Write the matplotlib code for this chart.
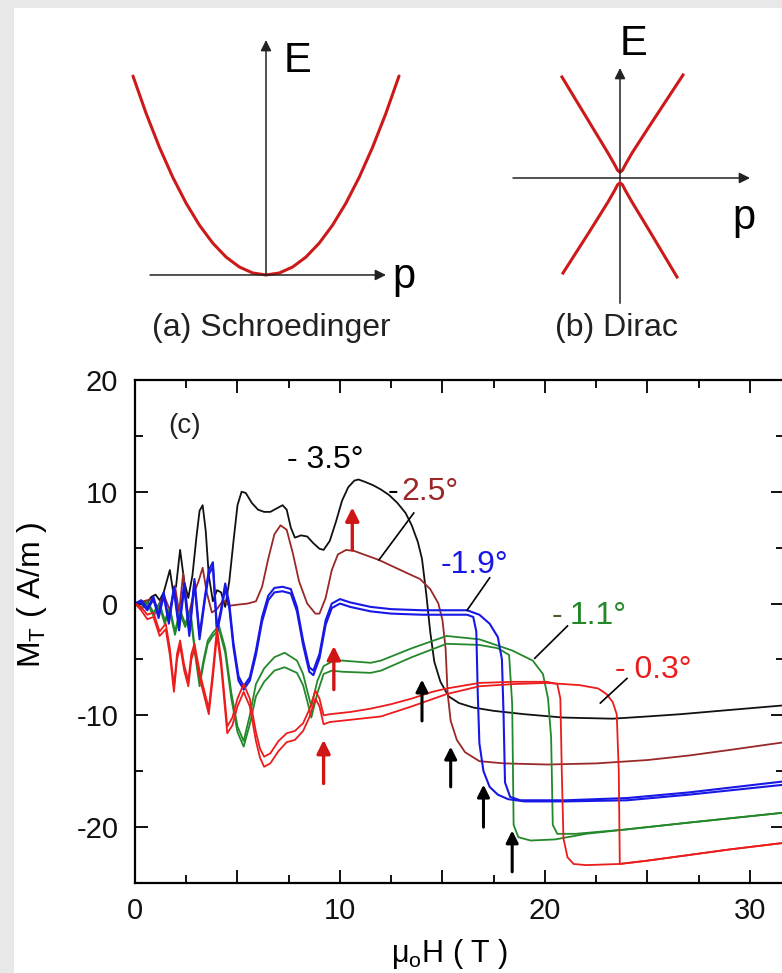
import matplotlib
matplotlib.use('Agg')
import matplotlib.pyplot as plt
from matplotlib.patches import Rectangle
from matplotlib.ticker import MultipleLocator

plt.rcParams['font.family'] = ['Liberation Sans', 'DejaVu Sans']
plt.rcParams['mathtext.fontset'] = 'custom'
plt.rcParams['mathtext.rm'] = 'Liberation Sans'
plt.rcParams['axes.unicode_minus'] = False

# ---- schematic dispersions (a) and (b)
schr_p = [-1.0, -0.9, -0.8, -0.7, -0.6, -0.5, -0.4, -0.3, -0.2, -0.1, 0.0,
          0.1, 0.2, 0.3, 0.4, 0.5, 0.6, 0.7, 0.8, 0.9, 1.0]
schr_E = [1.0, 0.81, 0.64, 0.49, 0.36, 0.25, 0.16, 0.09, 0.04, 0.01, 0.0,
          0.01, 0.04, 0.09, 0.16, 0.25, 0.36, 0.49, 0.64, 0.81, 1.0]

dirac_up_p = [-0.967, -0.5, -0.2, -0.09, -0.04, 0.0, 0.04, 0.09, 0.2, 0.5, 1.05]
dirac_up_E = [1.052, 0.57, 0.26, 0.14, 0.08, 0.06, 0.08, 0.14, 0.26, 0.55, 1.073]
dirac_lo_p = [-0.95, -0.5, -0.2, -0.09, -0.04, 0.0, 0.04, 0.09, 0.2, 0.5, 0.95]
dirac_lo_E = [-0.99, -0.55, -0.25, -0.13, -0.07, -0.05, -0.07, -0.13, -0.25, -0.56, -1.031]

# ---- (c) torque magnetization M_T vs field, five tilt angles
bk_x = [0, 0.3, 0.6, 0.8, 1.0, 1.2, 1.4, 1.55, 1.7, 1.85, 2.0, 2.2, 2.4, 2.6, 2.8,
        3.0, 3.15, 3.3, 3.45, 3.6, 3.8, 4.0, 4.2, 4.4, 4.6, 4.8, 5.0, 5.2, 5.4,
        5.7, 6.0, 6.3, 6.6, 6.9, 7.2, 7.4, 7.6, 7.8, 8.1, 8.4, 8.7, 9.0, 9.2,
        9.5, 9.8, 10.1, 10.4, 10.7, 10.9, 11.2, 11.6, 12.0, 12.4, 12.8, 13.2,
        13.5, 13.8, 14.0, 14.2, 14.4, 14.6, 14.9, 15.3, 15.8, 16.5, 17.5, 19.0,
        20.9, 23.3, 25.0, 26.6, 28.5, 31.7]
bk_y = [0, 0.2, 0.1, 0.6, 0.8, 0.3, 1.0, 2.0, 3.0, 1.2, 1.5, 4.8, 2.0, 0.5, 2.5,
        6.0, 8.3, 8.8, 6.5, 2.5, 0.2, 1.2, 1.0, -0.3, 2.0, 5.5, 8.8, 10.0, 9.9,
        9.0, 8.4, 8.2, 8.2, 8.5, 8.8, 8.4, 6.8, 5.9, 6.1, 6.0, 5.4, 4.9, 4.8,
        5.6, 7.3, 9.2, 10.4, 11.0, 11.1, 10.9, 10.6, 10.2, 9.7, 9.0, 8.1,
        7.0, 5.5, 4.0, 1.0, -2.5, -5.2, -7.0, -8.3, -8.9, -9.3, -9.6, -9.9,
        -10.2, -10.3, -10.1, -9.9, -9.6, -9.1]

dr_x = [0, 0.4, 0.8, 1.1, 1.4, 1.7, 1.95, 2.15, 2.35, 2.6, 2.85, 3.1, 3.3, 3.5,
        3.75, 4.0, 4.3, 4.6, 5.0, 5.5, 5.9, 6.2, 6.5, 6.8, 7.1, 7.4, 7.7, 8.0,
        8.4, 8.8, 9.0, 9.3, 9.6, 9.9, 10.3, 10.7, 11.3, 11.9, 12.6, 13.3, 13.9,
        14.4, 14.8, 15.0, 15.15, 15.25, 15.4, 15.7, 16.1, 16.8, 18.0, 20.1,
        22.5, 25.0, 27.0, 29.0, 31.7]
dr_y = [0, 0.2, 0.4, -0.3, 0.8, -0.6, 1.6, -0.8, 2.7, -1.2, 0.8, 2.0, 3.2, 1.0,
        -0.8, -0.5, 0.3, -0.2, -0.1, 0.0, 0.2, 1.5, 4.0, 6.2, 7.0, 6.6, 4.5, 2.0,
        0.0, -0.9, -0.9, 0.5, 3.0, 4.4, 4.8, 4.7, 4.3, 3.9, 3.3, 2.7, 2.2,
        1.3, 0.0, -1.5, -4.0, -8.0, -10.5, -12.2, -13.3, -14.1, -14.3, -14.4,
        -14.3, -14.0, -13.6, -13.1, -12.4]

b1_x = [0, 0.3, 0.6, 0.9, 1.15, 1.4, 1.65, 1.9, 2.15, 2.4, 2.65, 2.9, 3.15, 3.4,
        3.6, 3.8, 4.0, 4.2, 4.4, 4.6, 4.8, 5.05, 5.3, 5.6, 5.9, 6.2, 6.5, 6.8,
        7.2, 7.6, 7.9, 8.2, 8.5, 8.7, 9.0, 9.3, 9.6, 10.0, 10.5, 11.5, 12.5,
        14.0, 15.5, 16.2, 16.8, 17.3, 17.7, 17.9, 17.98, 18.05, 18.3, 18.8,
        21.0, 24.0, 27.0, 31.7]
b1_y = [0, 0.3, -0.4, 0.6, -1.0, 1.0, -1.5, 1.5, -2.0, 1.8, -2.5, 2.2, -2.8, 0.5,
        3.0, 3.7, -2.2, -0.5, 1.8, 0.0, -3.5, -6.5, -7.4, -6.6, -4.2, -1.2, 0.7,
        1.4, 1.5, 1.3, -0.3, -3.3, -5.7, -6.0, -4.5, -1.5, 0.0, 0.4, 0.1, -0.3,
        -0.5, -0.6, -0.6, -0.6, -1.0, -1.8, -3.0, -5.0, -10.0, -16.0, -17.3,
        -17.6, -17.6, -17.4, -16.9, -15.9]
b2_x = [0, 0.3, 0.6, 0.9, 1.15, 1.4, 1.65, 1.9, 2.15, 2.4, 2.65, 2.9, 3.15, 3.4,
        3.6, 3.8, 4.0, 4.2, 4.4, 4.6, 4.8, 5.05, 5.3, 5.6, 5.9, 6.2, 6.5, 6.8,
        7.2, 7.6, 7.9, 8.2, 8.5, 8.7, 9.0, 9.3, 9.6, 10.0, 10.5, 11.5, 12.5,
        14.0, 15.5, 16.2, 16.5, 16.65, 16.72, 16.8, 17.0, 17.3, 17.7, 18.2,
        19.0, 21.0, 24.0, 27.0, 31.7]
b2_y = [0, 0.1, -0.6, 0.4, -1.3, 0.7, -1.8, 1.2, -2.4, 1.4, -2.9, 1.8, -3.2, 0.2,
        2.6, 3.3, -2.6, -0.8, 1.4, -0.4, -3.9, -6.9, -7.7, -6.9, -4.6, -1.6, 0.3,
        1.0, 1.1, 0.9, -0.7, -3.7, -6.1, -6.4, -4.9, -1.9, -0.4, 0.0, -0.3, -0.7,
        -0.9, -1.0, -1.0, -1.0, -1.2, -2.5, -8.0, -12.5, -15.0, -16.4, -17.1,
        -17.5, -17.7, -17.7, -17.6, -17.1, -16.2]

g1_x = [0, 0.3, 0.6, 0.9, 1.2, 1.45, 1.7, 1.95, 2.2, 2.45, 2.7, 2.95, 3.15, 3.35,
        3.55, 3.8, 4.1, 4.4, 4.7, 5.0, 5.3, 5.6, 5.9, 6.3, 6.8, 7.3, 7.9, 8.2,
        8.4, 8.6, 8.9, 9.2, 9.6, 10.1, 11.5, 12.0, 13.5, 15.2, 16.8, 18.4, 19.4,
        19.9, 20.15, 20.3, 20.38, 20.6, 21.5, 24.0, 27.0, 31.7]
g1_y = [0, -0.3, 0.2, -0.8, 0.0, -1.5, -0.4, -2.5, -0.6, -1.8, -0.6, -4.5, -7.0,
        -5.0, -3.3, -2.6, -2.0, -4.0, -8.0, -11.0, -12.3, -10.0, -7.2, -5.8,
        -4.8, -4.4, -5.1, -6.3, -7.8, -9.2, -6.9, -5.6, -5.2, -5.1, -5.3, -5.1,
        -4.0, -2.9, -3.2, -4.2, -5.1, -6.3, -8.5, -12.0, -19.8, -20.6, -20.6,
        -20.2, -19.6, -18.7]
g2_x = [0, 0.3, 0.6, 0.9, 1.2, 1.45, 1.7, 1.95, 2.2, 2.45, 2.7, 2.95, 3.15, 3.35,
        3.55, 3.8, 4.1, 4.4, 4.7, 5.0, 5.3, 5.6, 5.9, 6.3, 6.8, 7.3, 7.9, 8.2,
        8.4, 8.6, 8.9, 9.2, 9.6, 10.1, 11.5, 12.0, 13.5, 15.2, 16.8, 17.7,
        18.25, 18.4, 18.47, 18.7, 19.3, 20.5, 22.0, 24.0, 27.0, 31.7]
g2_y = [0, -0.5, 0.0, -1.1, -0.3, -1.8, -0.7, -2.8, -0.9, -2.1, -0.9, -4.8, -7.4,
        -5.3, -3.6, -2.9, -2.3, -4.4, -8.5, -11.5, -12.8, -10.8, -8.3, -7.0,
        -6.0, -5.7, -6.2, -7.3, -8.7, -10.2, -8.0, -6.3, -6.0, -6.1, -6.2, -6.0,
        -4.8, -3.6, -3.7, -4.0, -4.6, -9.0, -19.8, -20.9, -21.2, -21.1, -20.6,
        -20.2, -19.6, -18.7]

r1_x = [0, 0.3, 0.6, 0.9, 1.2, 1.5, 1.7, 1.9, 2.05, 2.2, 2.4, 2.6, 2.75, 2.9,
        3.2, 3.6, 3.8, 4.0, 4.2, 4.5, 4.75, 5.0, 5.3, 5.6, 5.9, 6.1, 6.3, 6.6,
        7.0, 7.4, 7.8, 8.2, 8.5, 8.8, 9.0, 9.2, 9.5, 10.5, 11.5, 12.5, 13.5,
        14.5, 15.2, 16.8, 18.5, 20.1, 20.6, 20.75, 20.82, 20.9, 21.1, 21.4,
        22.0, 23.6, 25.0, 27.0, 29.0, 31.7]
r1_y = [0, -0.3, -1.0, -0.8, -2.5, -1.8, -4.0, -7.4, -4.5, -3.3, -5.5, -6.9, -4.5,
        -3.6, -6.5, -9.4, -6.0, -2.2, -5.0, -11.0, -10.2, -8.5, -7.2, -8.5,
        -11.5, -13.0, -13.7, -13.4, -12.3, -11.6, -11.4, -10.7, -9.5, -7.8,
        -8.5, -10.0, -9.9, -9.7, -9.4, -9.0, -8.5, -7.9, -7.6, -7.1, -7.0, -7.0,
        -7.2, -8.5, -15.0, -21.0, -22.7, -23.3, -23.4, -23.3, -23.0, -22.5,
        -22.0, -21.4]
r2_x = [0, 0.3, 0.6, 0.9, 1.2, 1.5, 1.7, 1.9, 2.05, 2.2, 2.4, 2.6, 2.75, 2.9,
        3.2, 3.6, 3.8, 4.0, 4.2, 4.5, 4.75, 5.0, 5.3, 5.6, 5.9, 6.1, 6.3, 6.6,
        7.0, 7.4, 7.8, 8.2, 8.5, 8.8, 9.0, 9.2, 9.5, 10.5, 12.0, 13.5, 15.2,
        16.8, 18.5, 20.1, 21.7, 22.6, 23.0, 23.3, 23.5, 23.6, 23.65, 25.0,
        27.0, 29.0, 31.7]
r2_y = [0, -0.6, -1.4, -1.2, -2.9, -2.3, -4.6, -7.9, -5.0, -3.8, -6.0, -7.4, -5.0,
        -4.1, -7.0, -9.9, -6.6, -2.8, -5.6, -11.6, -10.9, -9.2, -7.9, -9.2,
        -12.3, -13.8, -14.6, -14.3, -13.2, -12.4, -12.2, -11.4, -10.2, -8.5,
        -9.2, -10.8, -10.6, -10.4, -10.1, -9.2, -8.1, -7.4, -7.2, -7.1, -7.3,
        -7.6, -8.1, -8.8, -9.9, -15.0, -23.3, -23.0, -22.5, -22.0, -21.4]

# arrows marking features (field, start, end of arrow)
red_arrow_x = [10.6, 9.7, 9.2]
red_arrow_base = [4.8, -7.7, -16.1]
red_arrow_tip = [8.6, -3.8, -12.2]
blk_arrow_x = [14.0, 15.4, 17.0, 18.4]
blk_arrow_base = [-10.5, -16.4, -20.0, -24.0]
blk_arrow_tip = [-6.8, -12.8, -16.2, -20.3]

# leader lines from the angle labels to their curves
lead_x0 = [13.6, 17.3, 21.1, 24.0]
lead_y0 = [8.1, 2.3, -2.0, -6.7]
lead_x1 = [11.9, 16.2, 19.5, 22.7]
lead_y1 = [3.9, -0.6, -4.9, -8.9]

c_black = '#111111'
c_dred = '#9a2828'
c_blue = '#1818e6'
c_green = '#23882a'
c_red = '#ec1c1c'
c_arrow = '#d01515'
c_curve = '#cc1a1a'

W, H = 782, 973
fig = plt.figure(figsize=(W / 100, H / 100), dpi=100, facecolor='#e8e8e8')
fig.add_artist(Rectangle((14 / W, 0), 1, 1 - 8 / H, transform=fig.transFigure,
                         facecolor='white', edgecolor='none', zorder=-10))


def px_rect(x0, y0, x1, y1):
    return [x0 / W, 1 - y1 / H, (x1 - x0) / W, (y1 - y0) / H]


def px_text(x, y, s, **kw):
    fig.text(x / W, 1 - y / H, s, **kw)


arrow_kw = dict(arrowstyle='-|>', color='#222222', lw=1.1, mutation_scale=16,
                shrinkA=0, shrinkB=0)

# (a) Schroedinger
ax_a = fig.add_axes(px_rect(100, 10, 432, 345))
ax_a.set_xlim(-1.248, 1.248)
ax_a.set_ylim(-0.352, 1.332)
ax_a.axis('off')
ax_a.annotate('', xy=(0.902, 0), xytext=(-0.872, 0), arrowprops=arrow_kw)
ax_a.annotate('', xy=(0, 1.181), xytext=(0, 0), arrowprops=arrow_kw)
ax_a.plot(schr_p, schr_E, color=c_curve, lw=2.2, solid_capstyle='round')
px_text(284, 72, 'E', fontsize=30, va='baseline')
px_text(392, 288, 'p', fontsize=30, va='baseline')
px_text(271, 336, '(a) Schroedinger', fontsize=23, ha='center', va='baseline', color='#222222')

# (b) Dirac
ax_b = fig.add_axes(px_rect(500, 10, 770, 345))
ax_b.set_xlim(-2.0, 2.5)
ax_b.set_ylim(-1.7396, 1.75)
ax_b.axis('off')
ax_b.plot([0, 0], [-1.302, 0], color='#222222', lw=1.1)
ax_b.annotate('', xy=(0, 1.146), xytext=(0, 0), arrowprops=arrow_kw)
ax_b.annotate('', xy=(2.167, 0), xytext=(-1.783, 0), arrowprops=arrow_kw)
ax_b.plot(dirac_up_p, dirac_up_E, color=c_curve, lw=2.2)
ax_b.plot(dirac_lo_p, dirac_lo_E, color=c_curve, lw=2.2)
px_text(620, 55, 'E', fontsize=30, va='baseline')
px_text(732, 229, 'p', fontsize=30, va='baseline')
px_text(616, 336, '(b) Dirac', fontsize=23, ha='center', va='baseline', color='#222222')

# (c) main plot
ax = fig.add_axes(px_rect(135, 380, 784, 883))
ax.plot(bk_x, bk_y, color=c_black, lw=1.3)
ax.plot(dr_x, dr_y, color=c_dred, lw=1.3)
ax.plot(g1_x, g1_y, color=c_green, lw=1.3)
ax.plot(g2_x, g2_y, color=c_green, lw=1.3)
ax.plot(b1_x, b1_y, color=c_blue, lw=1.5)
ax.plot(b2_x, b2_y, color=c_blue, lw=1.5)
ax.plot(r1_x, r1_y, color=c_red, lw=1.3)
ax.plot(r2_x, r2_y, color=c_red, lw=1.3)

for x, y0, y1 in zip(red_arrow_x, red_arrow_base, red_arrow_tip):
    ax.annotate('', xy=(x, y1), xytext=(x, y0),
                arrowprops=dict(arrowstyle='-|>', color=c_arrow, lw=2.4,
                                mutation_scale=20, shrinkA=0, shrinkB=0))
for x, y0, y1 in zip(blk_arrow_x, blk_arrow_base, blk_arrow_tip):
    ax.annotate('', xy=(x, y1), xytext=(x, y0),
                arrowprops=dict(arrowstyle='-|>', color='black', lw=2.2,
                                mutation_scale=18, shrinkA=0, shrinkB=0))
for x0, y0, x1, y1 in zip(lead_x0, lead_y0, lead_x1, lead_y1):
    ax.plot([x0, x1], [y0, y1], color='black', lw=1.2)

ax.text(1.6, 15.3, '(c)', fontsize=20, color='#222222')
ax.text(7.4, 12.1, '- 3.5°', fontsize=23, color='black')
ax.text(12.3, 9.3, '-', fontsize=23, color='black')
ax.text(13.0, 9.3, '2.5°', fontsize=23, color=c_dred)
ax.text(14.9, 2.7, '-1.9°', fontsize=23, color=c_blue)
ax.text(20.3, -1.8, '-', fontsize=23, color='#4e5a22')
ax.text(21.2, -1.8, '1.1°', fontsize=23, color=c_green)
ax.text(23.4, -6.7, '- 0.3°', fontsize=23, color=c_red)

ax.set_xlim(0, 31.66)
ax.set_ylim(-25, 20)
ax.set_xticks([0, 5, 10, 15, 20, 25, 30])
ax.set_xticklabels(['0', '', '10', '', '20', '', '30'])
ax.xaxis.set_minor_locator(MultipleLocator(2.5))
ax.set_yticks([-20, -10, 0, 10, 20])
ax.yaxis.set_minor_locator(MultipleLocator(5))
ax.tick_params(which='both', direction='in', top=True, right=True, width=1.4,
               labelsize=21, colors='#111111')
ax.tick_params(which='major', length=9.5)
ax.tick_params(which='minor', length=5.5)
ax.tick_params(axis='y', pad=12)
ax.tick_params(axis='x', pad=10)
for sp in ax.spines.values():
    sp.set_linewidth(1.6)

px_text(32, 595, r'M$_\mathregular{T}$ ( A/m )', fontsize=23, rotation=90,
        ha='center', va='center')
px_text(450, 962, r'μ$_\mathregular{o}$H ( T )', fontsize=22, ha='center', va='baseline')

fig.savefig('out.png', dpi=100, facecolor=fig.get_facecolor())
